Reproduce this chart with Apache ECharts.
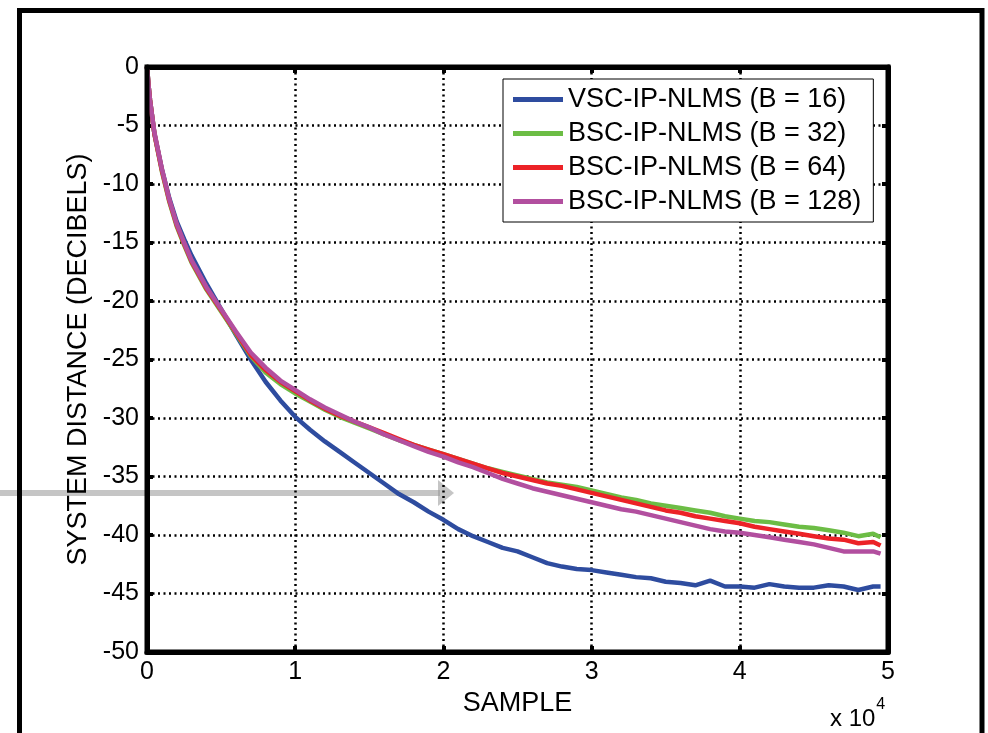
<!DOCTYPE html>
<html>
<head>
<meta charset="utf-8">
<title>System distance vs sample</title>
<script src="https://cdn.jsdelivr.net/npm/echarts@6/dist/echarts.min.js"></script>
<style>
    html, body { margin: 0; padding: 0; background: #fff; }
    #chart { width: 988px; height: 733px; }
</style>
</head>
<body>
<div id="chart"></div>
<script>
// sample index, in units of 10^4
var sampleX = [0, 0.01, 0.02, 0.05, 0.1, 0.15, 0.2, 0.25, 0.3,
    0.4, 0.5, 0.6, 0.7, 0.8, 0.9, 1.0, 1.1, 1.2, 1.3, 1.4, 1.5, 1.6, 1.7, 1.8, 1.9,
    2.0, 2.1, 2.2, 2.3, 2.4, 2.5, 2.6, 2.7, 2.8, 2.9, 3.0, 3.1, 3.2, 3.3, 3.4,
    3.5, 3.6, 3.7, 3.8, 3.9, 4.0, 4.1, 4.2, 4.3, 4.4, 4.5, 4.6, 4.7, 4.8, 4.9, 4.95];

var vscB16 = [0, -1.5, -2.8, -5.7, -8.7, -11.2, -13.2, -14.7, -16.1,
    -18.5, -20.7, -22.9, -25.0, -26.9, -28.5, -29.9, -31.0, -32.0, -32.9, -33.8, -34.7, -35.6, -36.5, -37.2, -38.0,
    -38.7, -39.5, -40.1, -40.6, -41.1, -41.4, -41.9, -42.4, -42.7, -42.9, -43.0, -43.2, -43.4, -43.6, -43.7,
    -44.0, -44.1, -44.3, -43.9, -44.4, -44.4, -44.5, -44.2, -44.4, -44.5, -44.5, -44.3, -44.4, -44.7, -44.4, -44.4];

var bscB32 = [0, -1.5, -2.8, -5.7, -8.9, -11.5, -13.6, -15.2, -16.7,
    -19.0, -20.9, -22.8, -24.7, -26.1, -27.1, -27.9, -28.6, -29.3, -29.9, -30.4, -30.9, -31.4, -31.9, -32.3, -32.7,
    -33.1, -33.5, -33.9, -34.3, -34.6, -34.9, -35.2, -35.5, -35.7, -35.9, -36.2, -36.5, -36.8, -37.0, -37.3,
    -37.5, -37.7, -37.9, -38.1, -38.4, -38.6, -38.8, -38.9, -39.1, -39.3, -39.4, -39.6, -39.8, -40.1, -39.9, -40.2];

var bscB64 = [0, -1.5, -2.8, -5.7, -8.8, -11.4, -13.5, -15.1, -16.6,
    -18.9, -20.8, -22.7, -24.6, -25.9, -26.9, -27.7, -28.5, -29.2, -29.8, -30.3, -30.8, -31.3, -31.8, -32.3, -32.7,
    -33.1, -33.5, -33.9, -34.3, -34.7, -35.0, -35.3, -35.6, -35.8, -36.1, -36.4, -36.7, -37.0, -37.3, -37.6,
    -37.9, -38.1, -38.4, -38.6, -38.8, -39.0, -39.3, -39.5, -39.7, -39.9, -40.1, -40.3, -40.4, -40.7, -40.6, -40.9];

var bscB128 = [0, -1.5, -2.8, -5.6, -8.7, -11.3, -13.4, -15.0, -16.5,
    -18.8, -20.7, -22.6, -24.4, -25.7, -26.8, -27.6, -28.4, -29.1, -29.7, -30.3, -30.8, -31.4, -31.9, -32.4, -32.9,
    -33.3, -33.8, -34.2, -34.7, -35.2, -35.6, -36.0, -36.3, -36.6, -36.9, -37.2, -37.5, -37.8, -38.0, -38.3,
    -38.6, -38.9, -39.2, -39.5, -39.7, -39.8, -40.0, -40.2, -40.4, -40.6, -40.8, -41.1, -41.4, -41.4, -41.4, -41.6];

var seriesNames = ['VSC-IP-NLMS (B = 16)', 'BSC-IP-NLMS (B = 32)', 'BSC-IP-NLMS (B = 64)', 'BSC-IP-NLMS (B = 128)'];
var seriesColors = ['#2e4c9f', '#6cbd45', '#ec2227', '#b24f9f'];
var seriesValues = [vscB16, bscB32, bscB64, bscB128];

var FONT = '"Liberation Sans", Arial, sans-serif';

function pairs(ys) {
    var out = [];
    for (var i = 0; i < sampleX.length; i++) out.push([sampleX[i], ys[i]]);
    return out;
}

var series = seriesNames.map(function (name, i) {
    return {
        name: name,
        type: 'line',
        data: pairs(seriesValues[i]),
        symbol: 'none',
        smooth: false,
        lineStyle: { color: seriesColors[i], width: 4.5 },
        itemStyle: { color: seriesColors[i] },
        z: 3 + i
    };
});

var dotted = { color: '#000', width: 2.5, type: [2, 3.5] };
var tickStyle = { show: true, inside: true, length: 6, lineStyle: { color: '#000', width: 4 } };
var lineStyleAxis = { show: true, onZero: false, lineStyle: { color: '#000', width: 5 } };

var chart = echarts.init(document.getElementById('chart'));
chart.setOption({
    backgroundColor: '#fff',
    animation: false,
    grid: { left: 147, top: 67, right: 100, bottom: 81, show: true, borderColor: '#000', borderWidth: 5, backgroundColor: 'transparent', z: 8 },
    legend: {
        data: seriesNames,
        orient: 'vertical',
        left: 503,
        top: 79,
        padding: [7, 12, 7, 10],
        itemGap: 7,
        itemWidth: 50,
        itemHeight: 5,
        icon: 'rect',
        backgroundColor: '#fff',
        borderColor: '#000',
        borderWidth: 1,
        textStyle: { fontFamily: FONT, fontSize: 27, lineHeight: 27, color: '#000', padding: [0, 0, 0, 0] },
        z: 10
    },
    xAxis: [{
        type: 'value', min: 0, max: 5, interval: 1,
        name: 'SAMPLE', nameLocation: 'middle', nameGap: 36,
        nameTextStyle: { fontFamily: FONT, fontSize: 27, color: '#000' },
        axisLine: lineStyleAxis, axisTick: tickStyle,
        axisLabel: { fontFamily: FONT, fontSize: 25, color: '#000', margin: 8 },
        splitLine: { show: true, lineStyle: dotted }
    }, {
        type: 'value', min: 0, max: 5, interval: 1, position: 'top',
        axisLine: lineStyleAxis, axisTick: tickStyle,
        axisLabel: { show: false }, splitLine: { show: false }
    }],
    yAxis: [{
        type: 'value', min: -50, max: 0, interval: 5,
        name: 'SYSTEM DISTANCE (DECIBELS)', nameLocation: 'middle', nameGap: 52, nameRotate: 90,
        nameTextStyle: { fontFamily: FONT, fontSize: 27, color: '#000' },
        axisLine: lineStyleAxis, axisTick: tickStyle,
        axisLabel: { fontFamily: FONT, fontSize: 25, color: '#000', margin: 8 },
        splitLine: { show: true, lineStyle: dotted }
    }, {
        type: 'value', min: -50, max: 0, interval: 5, position: 'right',
        axisLine: lineStyleAxis, axisTick: tickStyle,
        axisLabel: { show: false }, splitLine: { show: false }
    }],
    graphic: [
        // outer figure frame
        { type: 'rect', shape: { x: 19.5, y: 10.5, width: 962.5, height: 1000 },
          style: { fill: 'none', stroke: '#000', lineWidth: 5 }, z: 20, silent: true },
        // multiplier label
        { type: 'text', left: 830, top: 697,
          style: { text: '{a|x 10}{b|4}', rich: {
              a: { fontFamily: FONT, fontSize: 24, color: '#000', padding: [10, 0, 0, 0] },
              b: { fontFamily: FONT, fontSize: 16, color: '#000', verticalAlign: 'top', padding: [0, 0, 14, 1] }
          } }, z: 20 },
        // grey pointer arrow
        { type: 'group', z: 30, silent: true, children: [
            { type: 'rect', shape: { x: 0, y: 490, width: 440, height: 6 },
              style: { fill: 'rgba(150,150,150,0.55)' } },
            { type: 'polygon', shape: { points: [[438, 480], [454, 493], [438, 506]] },
              style: { fill: 'rgba(150,150,150,0.55)' } }
        ] }
    ],
    series: series
});
</script>
</body>
</html>
